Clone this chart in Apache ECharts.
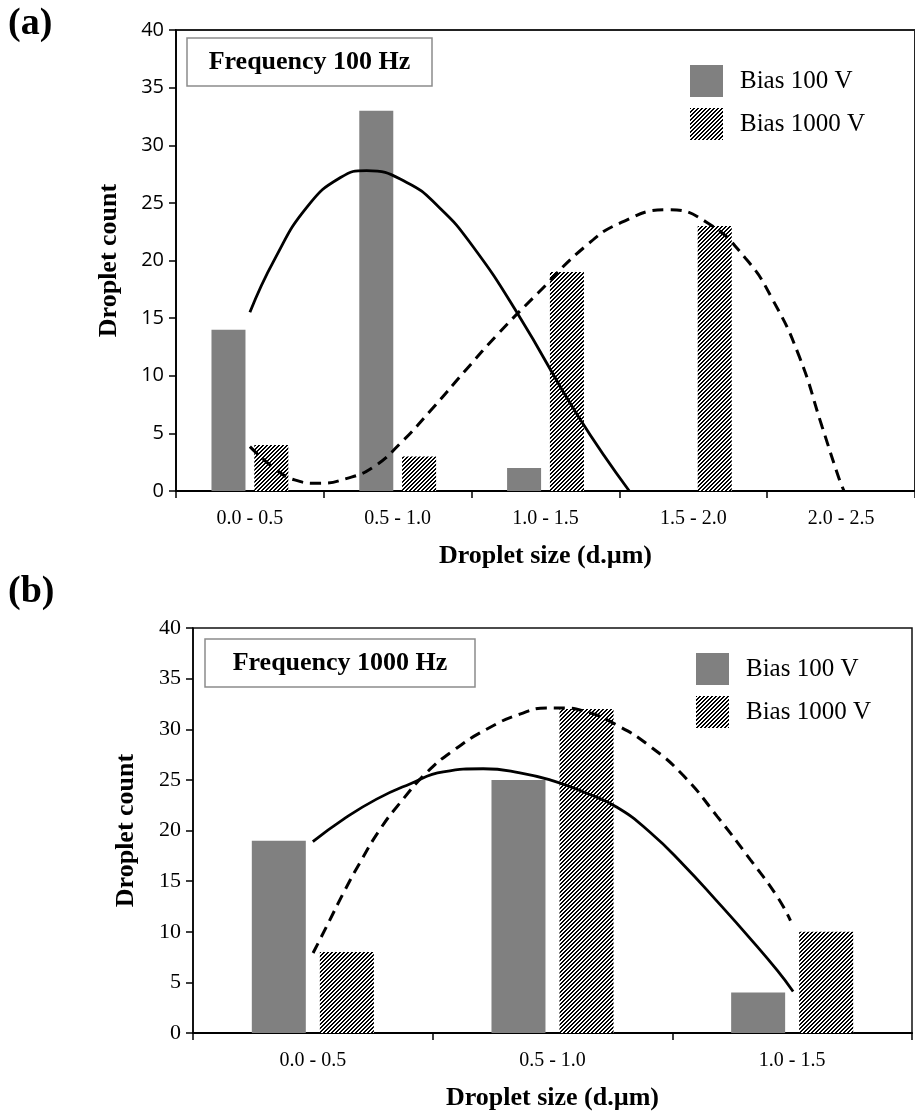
<!DOCTYPE html>
<html>
<head>
<meta charset="utf-8">
<script src="https://cdn.jsdelivr.net/npm/echarts@6/dist/echarts.min.js"></script>
<style>
html,body{margin:0;padding:0;background:#fff;}
#chart{width:915px;height:1113px;}
</style>
</head>
<body>
<div id="chart"></div>
<script>
// ---------- data ----------
const categoriesA = ['0.0 - 0.5', '0.5 - 1.0', '1.0 - 1.5', '1.5 - 2.0', '2.0 - 2.5'];
const bias100A = [14, 33, 2, 0, 0];
const bias1000A = [4, 3, 19, 23, 0];

const categoriesB = ['0.0 - 0.5', '0.5 - 1.0', '1.0 - 1.5'];
const bias100B = [19, 25, 4];
const bias1000B = [8, 32, 10];

// trend curves (x in category units, 0 = first category centre)
const trendA100X = [0, 0.167, 0.39, 0.613, 0.79, 1.058, 1.281, 1.504, 1.816, 2.22, 2.567];
const trendA100Y = [15.5, 20.1, 24.7, 27.2, 27.8, 26.8, 24.6, 21.3, 15.3, 6.5, 0];
const trendA1000X = [0, 0.168, 0.302, 0.458, 0.658, 0.837, 1.015, 1.238, 1.461, 1.684, 1.951, 2.267, 2.513, 2.824, 3.092, 3.359, 3.537, 3.716, 3.871, 3.983, 4.02];
const trendA1000Y = [3.85, 1.95, 0.96, 0.67, 1.1, 2.1, 4.1, 7.2, 10.5, 13.7, 17.2, 21.2, 23.3, 24.4, 23.3, 20.1, 16.6, 11.7, 5.6, 1.2, 0];

const trendB100X = [0, 0.127, 0.266, 0.405, 0.544, 0.711, 0.864, 1.003, 1.13, 1.269, 1.408, 1.547, 1.687, 1.826, 1.937, 2.004];
const trendB100Y = [18.9, 21.1, 23.1, 24.6, 25.8, 26.1, 25.7, 24.9, 23.8, 22.3, 19.8, 16.6, 13.0, 9.3, 6.2, 4.1];
const trendB1000X = [0.001, 0.057, 0.127, 0.196, 0.28, 0.363, 0.474, 0.586, 0.725, 0.864, 0.975, 1.033, 1.13, 1.269, 1.408, 1.547, 1.687, 1.826, 1.937, 1.993];
const trendB1000Y = [7.9, 10.5, 13.8, 16.8, 20.1, 22.7, 25.7, 27.9, 30.0, 31.5, 32.1, 32.1, 31.8, 30.4, 28.3, 25.4, 21.4, 17.1, 13.5, 11.1];

const legendNames = ['Bias 100 V', 'Bias 1000 V'];
const titleA = 'Frequency 100 Hz';
const titleB = 'Frequency 1000 Hz';
const xName = 'Droplet size (d.\u00b5m)';
const yName = 'Droplet count';

// ---------- helpers ----------
function zip(xs, ys) { return xs.map((x, i) => [x, ys[i]]); }

function hatch() {
  // crisp "/" stripes, 4 px period, 2 px black + 2 px white
  const c = document.createElement('canvas');
  c.width = 4; c.height = 4;
  const g = c.getContext('2d');
  g.fillStyle = '#ffffff';
  g.fillRect(0, 0, 4, 4);
  g.fillStyle = '#000000';
  for (let y = 0; y < 4; y++) {
    g.fillRect((3 - y + 4) % 4, y, 1, 1);
    g.fillRect((4 - y + 4) % 4, y, 1, 1);
  }
  return { image: c, repeat: 'repeat' };
}
const hatchFill = hatch();
const GRAY = '#808080';
const SERIF = '"Liberation Serif", "Times New Roman", serif';

const chart = echarts.init(document.getElementById('chart'), null, { renderer: 'canvas' });

function catAxis(grid, cats) {
  return {
    type: 'category', gridIndex: grid, data: cats,
    axisLine: { onZero: false, lineStyle: { color: '#000', width: 2 } },
    axisTick: { show: true, length: 7, lineStyle: { color: '#000', width: 1.5 }, alignWithLabel: false },
    axisLabel: { color: '#000', fontFamily: SERIF, fontSize: 20, margin: 18 },
    name: xName, nameLocation: 'middle', nameGap: 52,
    nameTextStyle: { color: '#000', fontFamily: SERIF, fontWeight: 'bold', fontSize: 26 }
  };
}
function valXAxis(grid, n) {
  return { type: 'value', gridIndex: grid, min: -0.5, max: n - 0.5, show: false };
}
function yAxis(grid, font, size) {
  return {
    type: 'value', gridIndex: grid, min: 0, max: 40, interval: 5,
    axisLine: { show: true, onZero: false, lineStyle: { color: '#000', width: 1.5 } },
    axisTick: { show: true, length: 7, lineStyle: { color: '#000', width: 1.5 } },
    axisLabel: { color: '#000', fontFamily: font, fontSize: size, margin: 12 },
    splitLine: { show: false },
    name: yName, nameLocation: 'middle', nameGap: 54, nameRotate: 90,
    nameTextStyle: { color: '#000', fontFamily: SERIF, fontWeight: 'bold', fontSize: 26 }
  };
}
function bar(name, xi, yi, data, color, w) {
  return {
    type: 'bar', name: name, xAxisIndex: xi, yAxisIndex: yi, data: data,
    barWidth: w, barGap: '26%',
    itemStyle: { color: color }, z: 2, silent: true
  };
}
function trend(name, xi, yi, data, dashed) {
  return {
    type: 'line', name: name, xAxisIndex: xi, yAxisIndex: yi, data: data,
    smooth: 0.5, showSymbol: false, silent: true, z: 5,
    lineStyle: { color: '#000', width: dashed ? 3 : 2.8, type: dashed ? [11, 7] : 'solid' }
  };
}
function legend(left, top) {
  return {
    data: legendNames, orient: 'vertical', left: left, top: top,
    icon: 'rect', itemWidth: 33, itemHeight: 32, itemGap: 11, padding: 0,
    selectedMode: false,
    textStyle: { color: '#000', fontFamily: SERIF, fontSize: 25, padding: [0, 0, 0, 12] }
  };
}
function titleBox(x, y, w, h, text) {
  return [
    { type: 'rect', shape: { x: x, y: y, width: w, height: h },
      style: { fill: '#fff', stroke: '#8c8c8c', lineWidth: 1.5 }, z: 10 },
    { type: 'text', x: x + w / 2, y: y + h / 2, z: 11,
      style: { text: text, fill: '#000', font: 'bold 26px ' + SERIF, textAlign: 'center', textVerticalAlign: 'middle' } }
  ];
}

const option = {
  animation: false,
  backgroundColor: '#fff',
  grid: [
    { left: 176, top: 30, right: -11, height: 461, show: true, borderColor: '#222', borderWidth: 2, backgroundColor: 'transparent' },
    { left: 193, top: 628, right: 3, height: 405, show: true, borderColor: '#111', borderWidth: 1.5, backgroundColor: 'transparent' }
  ],
  xAxis: [
    catAxis(0, categoriesA),
    catAxis(1, categoriesB),
    valXAxis(0, categoriesA.length),
    valXAxis(1, categoriesB.length)
  ],
  yAxis: [
    yAxis(0, '"Open Sans", "Liberation Sans", sans-serif', 20),
    yAxis(1, SERIF, 22)
  ],
  legend: [legend(690, 65), legend(696, 653)],
  series: [
    bar('Bias 100 V', 0, 0, bias100A, GRAY, 34),
    bar('Bias 1000 V', 0, 0, bias1000A, hatchFill, 34),
    bar('Bias 100 V', 1, 1, bias100B, GRAY, 54),
    bar('Bias 1000 V', 1, 1, bias1000B, hatchFill, 54),
    trend('Trend A 100', 2, 0, zip(trendA100X, trendA100Y), false),
    trend('Trend A 1000', 2, 0, zip(trendA1000X, trendA1000Y), true),
    trend('Trend B 100', 3, 1, zip(trendB100X, trendB100Y), false),
    trend('Trend B 1000', 3, 1, zip(trendB1000X, trendB1000Y), true)
  ],
  graphic: [
    { type: 'text', x: 8, y: 24, style: { text: '(a)', fill: '#000', font: 'bold 38px ' + SERIF, textAlign: 'left', textVerticalAlign: 'middle' } },
    { type: 'text', x: 8, y: 592, style: { text: '(b)', fill: '#000', font: 'bold 38px ' + SERIF, textAlign: 'left', textVerticalAlign: 'middle' } }
  ].concat(titleBox(187, 38, 245, 48, titleA), titleBox(205, 639, 270, 48, titleB))
};
chart.setOption(option);
</script>
</body>
</html>
